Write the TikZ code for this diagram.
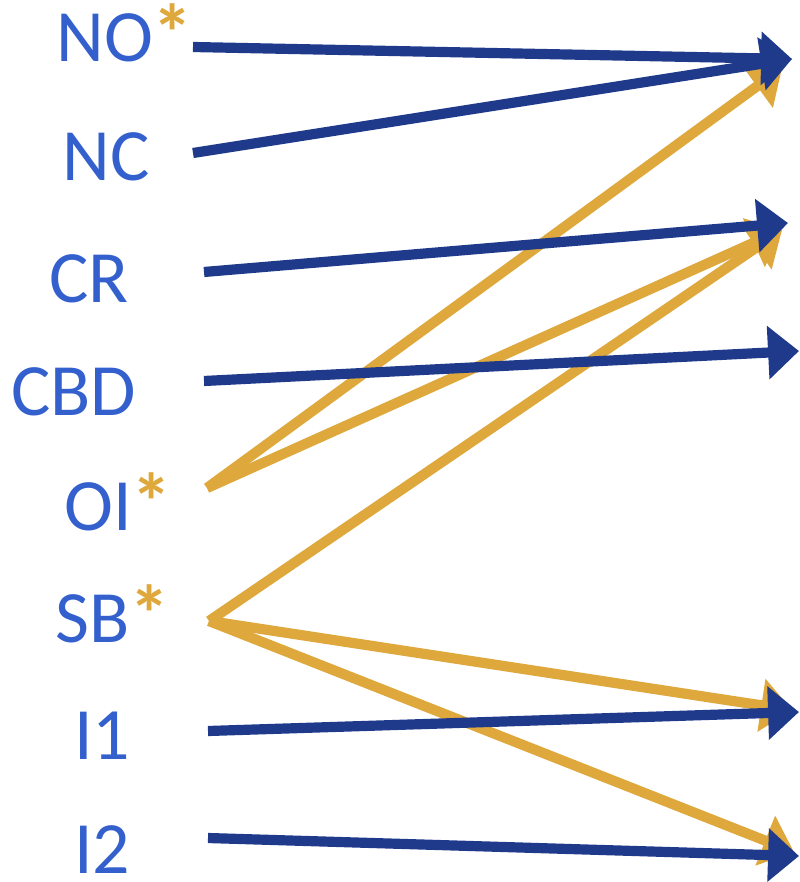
\documentclass[tikz,border=0pt]{standalone}
\usepackage{fontspec}
\setmainfont{Carlito}
\usetikzlibrary{arrows.meta}
\definecolor{lblblue}{RGB}{52,96,206}
\definecolor{arrblue}{RGB}{31,58,138}
\definecolor{arrorange}{RGB}{222,168,60}
\tikzset{
  lbl/.style={anchor=base west, inner sep=0pt, text=lblblue, font=\fontsize{42}{50}\selectfont},
  bluearr/.style={draw=arrblue, line width=5.8pt, -{Triangle[length=17.6pt,width=29.5pt]}},
  orarr/.style={draw=arrorange, line width=5.8pt, -{Triangle[length=17.6pt,width=29.5pt]}},
}
\newcommand{\orast}{\textcolor{arrorange}{\bfseries\fontsize{46}{50}\selectfont*}}
\begin{document}
\begin{tikzpicture}[x=0.02cm,y=-0.02cm]
\useasboundingbox (0,0) rectangle (800,882);
% labels
\node[lbl] (no)  at (56,62)  {NO\orast};
\node[lbl] (nc)  at (62,180) {NC};
\node[lbl] (cr)  at (49,302) {CR};
\node[lbl] (cbd) at (11,415) {CBD};
\node[lbl] (oi)  at (64,530) {OI\orast};
\node[lbl] (sb)  at (55,642) {SB\orast};
\node[lbl] (ione) at (74,759) {I1};
\node[lbl] (itwo) at (74,873) {I2};
% start points
\coordinate (sNO) at (193,47);
\coordinate (sNC) at (193,153);
\coordinate (sCR) at (204,272);
\coordinate (sCBD) at (204,381);
\coordinate (sOI) at (207,488);
\coordinate (sSB) at (209,621);
\coordinate (sI1) at (208,731);
\coordinate (sI2) at (208,838);
% tips
\coordinate (tA) at (792,59);
\coordinate (tAo) at (782,68);
\coordinate (tB) at (788,223);
\coordinate (tBo) at (782,230);
\coordinate (tC) at (799,351);
\coordinate (tD) at (799,712);
\coordinate (tDo) at (792,710);
\coordinate (tE) at (799,856);
\coordinate (tEo) at (794,852);
% orange arrows (below)
\draw[orarr] (sOI) -- (tAo);
\draw[orarr] (sOI) -- (tBo);
\draw[orarr] (sSB) -- (tBo);
\draw[orarr] (sSB) -- (tDo);
\draw[orarr] (sSB) -- (tEo);
% blue arrows
\draw[bluearr] (sNO) -- (tA);
\draw[bluearr] (sNC) -- (tA);
\draw[bluearr] (sCR) -- (tB);
\draw[bluearr] (sCBD) -- (tC);
\draw[bluearr] (sI1) -- (tD);
\draw[bluearr] (sI2) -- (tE);
\end{tikzpicture}
\end{document}
